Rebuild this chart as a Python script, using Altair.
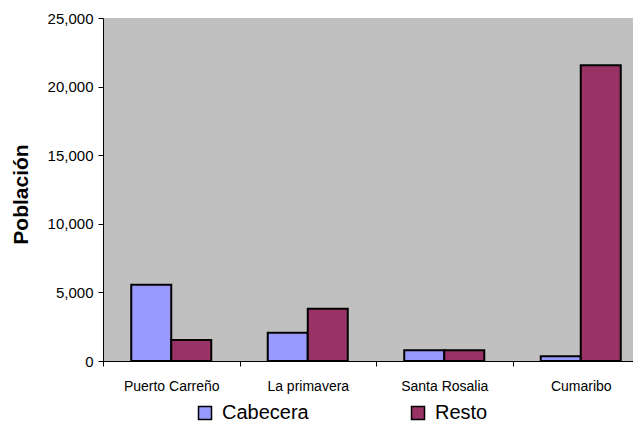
import altair as alt
import pandas as pd

municipios = ["Puerto Carreño", "La primavera", "Santa Rosalia", "Cumaribo"]
cabecera = [5560, 2050, 780, 350]
resto = [1530, 3800, 780, 21550]
series = ["Cabecera", "Resto"]
colors = ["#9999FF", "#993366"]

rows = []
for m, c, r in zip(municipios, cabecera, resto):
    rows.append({"Municipio": m, "Tipo": "Cabecera", "Poblacion": c})
    rows.append({"Municipio": m, "Tipo": "Resto", "Poblacion": r})
df = pd.DataFrame(rows)

FONT = "Liberation Sans"

chart = alt.Chart(df).mark_bar(stroke="black", strokeWidth=2).encode(
    x=alt.X("Municipio:N", sort=municipios,
            scale=alt.Scale(paddingInner=0, paddingOuter=0),
            axis=alt.Axis(title=None, labelAngle=0, tickBand="extent",
                          labelFont=FONT, labelFontSize=14, labelColor="black",
                          domainColor="black", tickColor="black", tickSize=5,
                          labelPadding=13, grid=False)),
    xOffset=alt.XOffset("Tipo:N", sort=series,
                        scale=alt.Scale(paddingInner=0, paddingOuter=0.706)),
    y=alt.Y("Poblacion:Q",
            scale=alt.Scale(domain=[0, 25000], nice=False),
            axis=alt.Axis(title="Población", values=[0, 5000, 10000, 15000, 20000, 25000],
                          format=",.0f", labelFont=FONT, labelFontSize=15, labelColor="black",
                          titleFont=FONT, titleFontSize=21, titleFontWeight="bold",
                          titleColor="black", titleAngle=270, titleBaseline="alphabetic",
                          titleAlign="center", titleX=-76, titleY=176,
                          domainColor="black", tickColor="black", tickSize=5,
                          labelPadding=5, grid=False)),
    color=alt.Color("Tipo:N", sort=series,
                    scale=alt.Scale(domain=series, range=colors),
                    legend=alt.Legend(orient="none", legendX=92, legendY=385,
                                      direction="horizontal", title=None,
                                      symbolType="square", symbolSize=169,
                                      symbolStrokeColor="black", symbolStrokeWidth=1.5,
                                      labelFont=FONT, labelFontSize=20, labelColor="black",
                                      labelOffset=7, columnPadding=99)),
).properties(
    width=546, height=343,
    background="white",
    autosize=alt.AutoSizeParams(type="none"),
    padding={"left": 95, "top": 10, "right": -16, "bottom": 62},
).configure_view(
    fill="#C0C0C0", stroke=None
)

chart.save("out.html", embed_options={"renderer": "svg", "actions": False})
